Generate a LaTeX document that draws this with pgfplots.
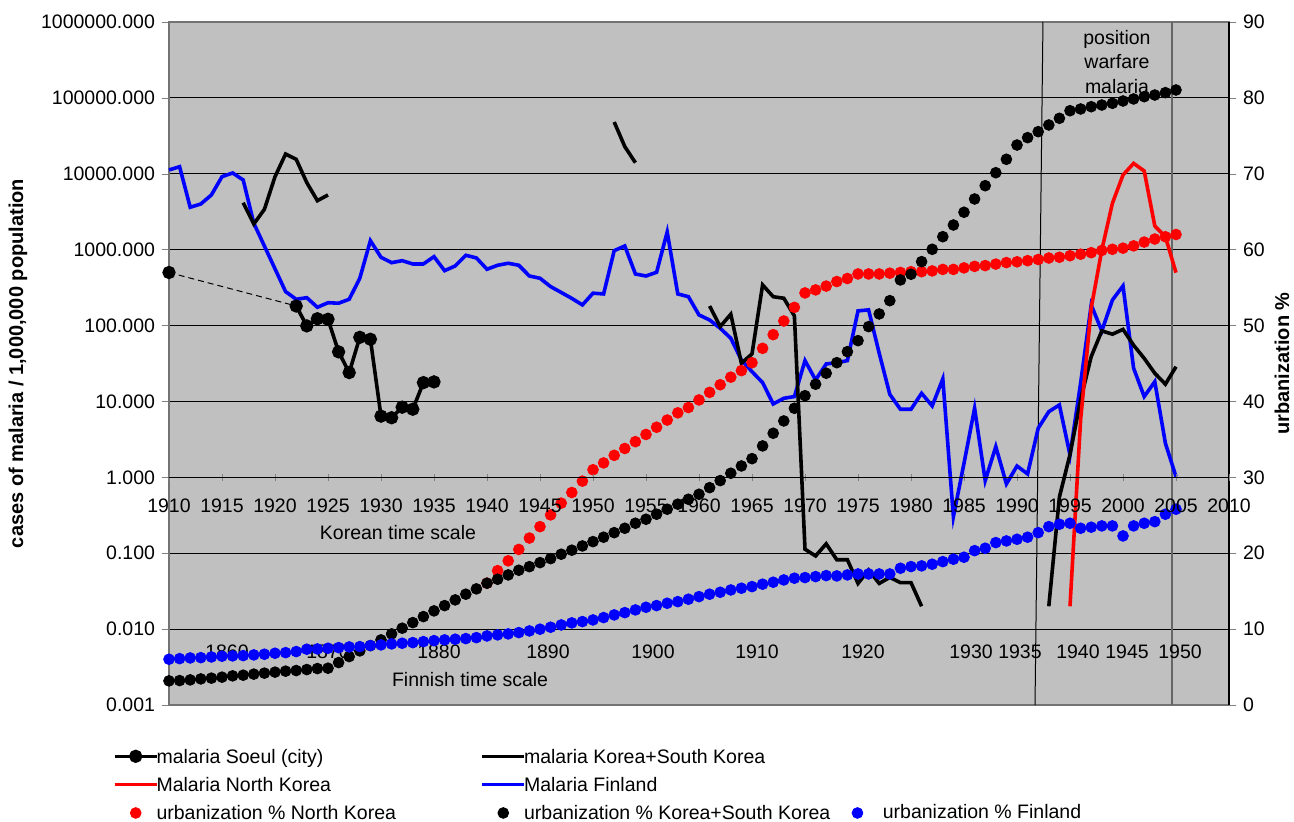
\documentclass[border=0pt]{standalone}
\usepackage{fontspec}
\setmainfont{Liberation Sans}
\usepackage{pgfplots}
\pgfplotsset{compat=1.18}
\definecolor{plotbg}{RGB}{192,192,192}
\newcommand\lbl{\fontsize{9.75bp}{11.7bp}\selectfont}
\newcommand\legA[1]{\makebox[157bp][l]{\hspace*{-3bp}\strut #1}}
\newcommand\legB[1]{\makebox[151bp][l]{\hspace*{-3bp}\strut #1}}

\pgfplotsset{
  base/.style={scale only axis, width=530bp, height=341.5bp,
    xmin=1910, xmax=2010, clip=false,
    /pgf/number format/assume math mode=true,
    /pgf/number format/1000 sep={},
    tick label style={font=\lbl},
    tick align=outside, major tick length=3.5bp},
  seoul/.style={black, line width=1.8bp, mark=*, mark size=2.4bp},
  kor/.style={black, line width=1.8bp},
  nk/.style={red, line width=1.8bp},
  fin/.style={blue, line width=1.8bp},
  dots/.style={only marks, mark=*, mark size=2.7bp, draw=#1, fill=#1},
}

\begin{document}
\begin{tikzpicture}
\useasboundingbox (-84.5bp,-58.5bp) rectangle (562.5bp,352.5bp);

% left axis: malaria cases (log)
\begin{axis}[base,
  ymode=log, ymin=0.001, ymax=1000000,
  xtick=\empty, ytick pos=left, yminorticks=false,
  ytick={0.001,0.01,0.1,1,10,100,1000,10000,100000,1000000},
  yticklabels={0.001,0.010,0.100,1.000,10.000,100.000,1000.000,10000.000,100000.000,1000000.000},
  ymajorgrids, major grid style={black, line width=0.5bp},
  axis line style={black!55, line width=0.75bp},
  axis background/.style={fill=plotbg},
  ylabel={cases of malaria / 1,000,000 population},
  ylabel style={font=\fontsize{10bp}{12bp}\selectfont\bfseries,
    at={([xshift=-75.5bp]axis description cs:0,0.5)}, anchor=center},
]
\addplot[black, line width=0.5bp] coordinates {(1992.45,1000000) (1991.7,0.001)};
\addplot[black!60, line width=0.75bp] coordinates {(2004.6,1000000) (2004.6,0.001)};

% Malaria Finland
\addplot[fin] coordinates {
(1910,11220) (1911,12400) (1912,3620) (1913,4000) (1914,5260) (1915,9160)
(1916,10250) (1917,8290) (1918,2230) (1921,280) (1922,222) (1923,233)
(1924,174) (1925,200) (1926,197) (1927,222) (1928,420) (1929,1314)
(1930,794) (1931,674) (1932,716) (1933,648) (1934,648) (1935,809)
(1936,529) (1937,610) (1938,844) (1939,778) (1940,552) (1941,623)
(1942,662) (1943,623) (1944,450) (1945,420) (1946,326) (1947,273)
(1948,228) (1949,187) (1950,267) (1951,261) (1952,970) (1953,1119)
(1954,478) (1955,450) (1956,504) (1957,1711) (1958,261) (1959,240)
(1960,138) (1961,118.5) (1962,92.2) (1963,68.0) (1964,35.2) (1965,24.7)
(1966,17.7) (1967,9.27) (1968,11.0) (1969,11.6) (1970,34.5) (1971,19.2)
(1972,31.2) (1973,32.4) (1974,34.5) (1975,156) (1976,161) (1977,43.2)
(1978,12.4) (1979,7.89) (1980,7.89) (1981,12.8) (1982,8.73) (1983,19.8)
(1984,0.304) (1985,1.53) (1986,8.14) (1987,0.905) (1988,2.54) (1989,0.819)
(1990,1.41) (1991,1.11) (1992,4.44) (1993,7.34) (1994,8.99) (1995,1.97)
(1996,17.4) (1997,187) (1998,84.9) (1999,217) (2000,333) (2001,27.4)
(2002,11.6) (2003,18.2) (2004,2.81) (2005,1.02)
};

% malaria Seoul (city)
\addplot[black, line width=0.5bp, dash pattern=on 3bp off 2bp] coordinates {(1910,500) (1922,181)};
\addplot[seoul] coordinates {(1910,500)};
\addplot[seoul] coordinates {
(1922,181) (1923,99) (1924,123) (1925,121) (1926,45) (1927,24) (1928,70)
(1929,66) (1930,6.4) (1931,6.1) (1932,8.4) (1933,7.9) (1934,17.7) (1935,18.1)
};

% malaria Korea + South Korea
\addplot[kor] coordinates {
(1917,4160) (1918,2180) (1919,3400) (1920,9160) (1921,18200) (1922,15500)
(1923,7640) (1924,4420) (1925,5260)
};
\addplot[kor] coordinates {(1952,48100) (1953,22800) (1954,14000)};
\addplot[kor] coordinates {
(1961,181) (1962,97) (1963,141) (1964,31.9) (1965,42.3) (1966,343) (1967,240)
(1968,229) (1969,134) (1970,0.113) (1971,0.092) (1972,0.133) (1973,0.082)
(1974,0.082) (1975,0.040) (1976,0.060) (1977,0.040) (1978,0.048) (1979,0.041)
(1980,0.041) (1981,0.020)
};
\addplot[kor] coordinates {
(1993,0.020) (1994,0.55) (1995,2.0) (1996,10.5) (1997,39) (1998,85) (1999,77)
(2000,89) (2001,55) (2002,37) (2003,23.5) (2004,16.9) (2005,28.7)
};

% Malaria North Korea
\addplot[nk] coordinates {
(1995,0.020) (1996,5.7) (1997,170) (1998,990) (1999,4090) (2000,9640)
(2001,13700) (2002,10900) (2003,2050) (2004,1480) (2005,498)
};

\node[font=\lbl] at (axis description cs:0.216,0.2518) {Korean time scale};
\node[font=\lbl] at (axis description cs:0.284,0.0366) {Finnish time scale};
\node[font=\lbl] at (axis description cs:0.0547,0.0776) {1860};
\node[font=\lbl] at (axis description cs:0.1500,0.0776) {1870};
\node[font=\lbl] at (axis description cs:0.2547,0.0776) {1880};
\node[font=\lbl] at (axis description cs:0.3575,0.0776) {1890};
\node[font=\lbl] at (axis description cs:0.4566,0.0776) {1900};
\node[font=\lbl] at (axis description cs:0.5547,0.0776) {1910};
\node[font=\lbl] at (axis description cs:0.6547,0.0776) {1920};
\node[font=\lbl] at (axis description cs:0.7566,0.0776) {1930};
\node[font=\lbl] at (axis description cs:0.8028,0.0776) {1935};
\node[font=\lbl] at (axis description cs:0.8575,0.0776) {1940};
\node[font=\lbl] at (axis description cs:0.9038,0.0776) {1945};
\node[font=\lbl] at (axis description cs:0.9538,0.0776) {1950};
\node[font=\fontsize{9.75bp}{12.25bp}\selectfont, align=center]
  at (axis description cs:0.8943,0.9414) {position\\warfare\\malaria};
\end{axis}

% right axis: urbanization %
\begin{axis}[base,
  ymin=0, ymax=90, axis y line*=right, axis x line=none,
  ytick={0,10,...,90},
  y axis line style={black, line width=0.75bp},
  ylabel={urbanization \%},
  ylabel style={font=\fontsize{10bp}{12bp}\selectfont\bfseries,
    at={([xshift=26.5bp]axis description cs:1,0.5)}, anchor=center, rotate=0},
  legend columns=3,
  legend cell align=left,
  legend style={at={(-0.0529,-0.0551)}, anchor=north west, draw=none, fill=none,
    font=\lbl, inner sep=0pt, outer sep=0pt, row sep=0.5bp},
  legend image code/.code={\path (0bp,0bp) (21bp,0bp);
    \draw[mark repeat=2,mark phase=2,#1]
    plot coordinates {(0bp,0bp) (10.5bp,0bp) (21bp,0bp)};},
]
\addlegendimage{seoul}\addlegendentry{\legA{malaria Soeul (city)}}
\addlegendimage{kor}\addlegendentry{\legB{malaria Korea+South Korea}}
\addlegendimage{empty legend}\addlegendentry{}
\addlegendimage{nk}\addlegendentry{\legA{Malaria North Korea}}
\addlegendimage{fin}\addlegendentry{\legB{Malaria Finland}}
\addlegendimage{empty legend}\addlegendentry{}

% urbanization % North Korea
\addplot[dots=red] coordinates {
(1940,16.05) (1941,17.7) (1942,19.0) (1943,20.5) (1944,22.0) (1945,23.5)
(1946,25.05) (1947,26.6) (1948,28.0) (1949,29.5) (1950,31.0) (1951,31.9)
(1952,32.9) (1953,33.8) (1954,34.7) (1955,35.65) (1956,36.6) (1957,37.55)
(1958,38.5) (1959,39.2) (1960,40.2) (1961,41.2) (1962,42.2) (1963,43.2)
(1964,44.06) (1965,45.1) (1966,47.0) (1967,48.8) (1968,50.6) (1969,52.4)
(1970,54.3) (1971,54.7) (1972,55.2) (1973,55.8) (1974,56.2) (1975,56.8)
(1976,56.8) (1977,56.8) (1978,56.9) (1979,57.0) (1980,57.1) (1981,57.1)
(1982,57.2) (1983,57.4) (1984,57.4) (1985,57.6) (1986,57.8) (1987,57.9)
(1988,58.1) (1989,58.3) (1990,58.4) (1991,58.55) (1992,58.7) (1993,58.9)
(1994,59.0) (1995,59.2) (1996,59.4) (1997,59.6) (1998,59.9) (1999,60.05)
(2000,60.2) (2001,60.5) (2002,61.0) (2003,61.4) (2004,61.7) (2005,62.0)
};
\addlegendentry{\legA{urbanization \% North Korea}}

% urbanization % Korea + South Korea
\addplot[dots=black] coordinates {
(1910,3.18) (1911,3.22) (1912,3.31) (1913,3.44) (1914,3.54) (1915,3.67)
(1916,3.84) (1917,3.93) (1918,4.07) (1919,4.20) (1920,4.33) (1921,4.46)
(1922,4.54) (1923,4.67) (1924,4.80) (1925,4.85) (1926,5.59) (1927,6.38)
(1928,7.13) (1929,7.83) (1930,8.58) (1931,9.37) (1932,10.12) (1933,10.86)
(1934,11.65) (1935,12.4) (1936,13.1) (1937,13.85) (1938,14.6) (1939,15.3)
(1940,16.05) (1941,16.57) (1942,17.14) (1943,17.76) (1944,18.23) (1945,18.76)
(1946,19.29) (1947,19.87) (1948,20.4) (1949,20.96) (1950,21.53) (1951,22.11)
(1952,22.71) (1953,23.29) (1954,23.95) (1955,24.48) (1956,25.14) (1957,25.8)
(1958,26.46) (1959,27.11) (1960,27.77) (1961,28.64) (1962,29.57) (1963,30.54)
(1964,31.5) (1965,32.46) (1966,34.14) (1967,35.81) (1968,37.43) (1969,39.1)
(1970,40.76) (1971,42.27) (1972,43.72) (1973,45.11) (1974,46.56) (1975,48.01)
(1976,49.86) (1977,51.53) (1978,53.28) (1979,56.01) (1980,56.76) (1981,58.42)
(1982,60.05) (1983,61.71) (1984,63.25) (1985,64.93) (1986,66.68) (1987,68.43)
(1988,70.14) (1989,71.91) (1990,73.79) (1991,74.76) (1992,75.55) (1993,76.43)
(1994,77.31) (1995,78.31) (1996,78.54) (1997,78.84) (1998,79.06) (1999,79.29)
(2000,79.59) (2001,79.86) (2002,80.16) (2003,80.38) (2004,80.69) (2005,81.04)
};
\addlegendentry{\legB{urbanization \% Korea+South Korea}}

% urbanization % Finland
\addplot[dots=blue] coordinates {
(1910,6.03) (1911,6.11) (1912,6.20) (1913,6.24) (1914,6.33) (1915,6.43)
(1916,6.47) (1917,6.51) (1918,6.60) (1919,6.69) (1920,6.82) (1921,6.90)
(1922,7.04) (1923,7.35) (1924,7.39) (1925,7.48) (1926,7.56) (1927,7.65)
(1928,7.69) (1929,7.83) (1930,7.92) (1931,8.05) (1932,8.14) (1933,8.22)
(1934,8.35) (1935,8.48) (1936,8.58) (1937,8.67) (1938,8.75) (1939,8.88)
(1940,9.10) (1941,9.24) (1942,9.37) (1943,9.54) (1944,9.76) (1945,9.99)
(1946,10.25) (1947,10.55) (1948,10.82) (1949,10.99) (1950,11.21) (1951,11.52)
(1952,11.87) (1953,12.17) (1954,12.53) (1955,12.88) (1956,13.10) (1957,13.41)
(1958,13.62) (1959,13.94) (1960,14.28) (1961,14.60) (1962,14.86) (1963,15.16)
(1964,15.39) (1965,15.60) (1966,15.92) (1967,16.18) (1968,16.48) (1969,16.71)
(1970,16.79) (1971,16.92) (1972,17.05) (1973,17.01) (1974,17.14) (1975,17.27)
(1976,17.27) (1977,17.27) (1978,17.27) (1979,18.02) (1980,18.24) (1981,18.33)
(1982,18.55) (1983,18.89) (1984,19.21) (1985,19.47) (1986,20.34) (1987,20.66)
(1988,21.40) (1989,21.62) (1990,21.84) (1991,22.11) (1992,22.71) (1993,23.50)
(1994,23.82) (1995,23.95) (1996,23.29) (1997,23.43) (1998,23.60) (1999,23.60)
(2000,22.28) (2001,23.60) (2002,23.95) (2003,24.16) (2004,25.14) (2005,25.80)
};
\addlegendentry{urbanization \% Finland}
\end{axis}

% Korean time scale axis at the 1.000 level
\begin{axis}[base,
  ymin=-3, ymax=6, axis x line=middle, axis y line=none,
  axis line style={-, black, line width=0.5bp},
  xtick={1910,1915,...,2010},
  xticklabel style={yshift=-5.5bp},
]
\end{axis}
\end{tikzpicture}
\end{document}
